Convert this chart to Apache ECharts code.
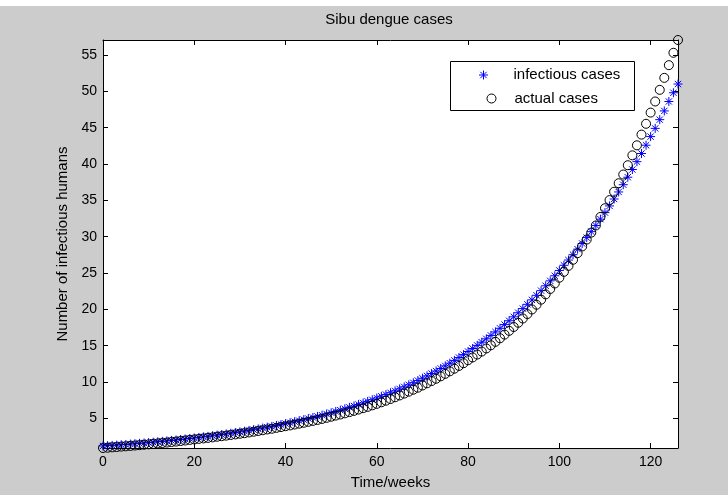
<!DOCTYPE html>
<html>
<head>
<meta charset="utf-8">
<title>Sibu dengue cases</title>
<script src="https://cdn.jsdelivr.net/npm/echarts@6/dist/echarts.min.js"></script>
<style>
html, body { margin: 0; padding: 0; background: #cccccc; }
#main { width: 728px; height: 495px; }
</style>
</head>
<body>
<div id="main"></div>
<script>
// weeks since start
var weeks = [
  0, 1, 2, 3, 4, 5, 6, 7, 8, 9,
  10, 11, 12, 13, 14, 15, 16, 17, 18, 19,
  20, 21, 22, 23, 24, 25, 26, 27, 28, 29,
  30, 31, 32, 33, 34, 35, 36, 37, 38, 39,
  40, 41, 42, 43, 44, 45, 46, 47, 48, 49,
  50, 51, 52, 53, 54, 55, 56, 57, 58, 59,
  60, 61, 62, 63, 64, 65, 66, 67, 68, 69,
  70, 71, 72, 73, 74, 75, 76, 77, 78, 79,
  80, 81, 82, 83, 84, 85, 86, 87, 88, 89,
  90, 91, 92, 93, 94, 95, 96, 97, 98, 99,
  100, 101, 102, 103, 104, 105, 106, 107, 108, 109,
  110, 111, 112, 113, 114, 115, 116, 117, 118, 119,
  120, 121, 122, 123, 124, 125, 126
];

// model output (blue *)
var infectious = [
  1.20, 1.24, 1.28, 1.32, 1.37, 1.41, 1.46, 1.51, 1.56, 1.61,
  1.66, 1.72, 1.78, 1.83, 1.89, 1.96, 2.02, 2.09, 2.16, 2.23,
  2.30, 2.37, 2.45, 2.52, 2.60, 2.69, 2.77, 2.86, 2.95, 3.04,
  3.14, 3.23, 3.34, 3.44, 3.55, 3.66, 3.78, 3.89, 4.02, 4.14,
  4.27, 4.40, 4.54, 4.68, 4.82, 4.97, 5.12, 5.27, 5.43, 5.60,
  5.77, 5.95, 6.13, 6.31, 6.51, 6.70, 6.91, 7.12, 7.33, 7.56,
  7.79, 8.03, 8.27, 8.52, 8.78, 9.05, 9.33, 9.61, 9.90, 10.20,
  10.52, 10.84, 11.17, 11.51, 11.86, 12.22, 12.59, 12.97, 13.37, 13.77,
  14.20, 14.61, 15.04, 15.48, 15.94, 16.41, 16.89, 17.39, 17.90, 18.43,
  18.97, 19.53, 20.10, 20.69, 21.30, 21.93, 22.57, 23.24, 23.92, 24.62,
  25.35, 26.06, 26.78, 27.52, 28.28, 29.06, 29.87, 30.69, 31.54, 32.41,
  33.31, 34.23, 35.18, 36.15, 37.15, 38.18, 39.24, 40.32, 41.44, 42.58,
  43.77, 44.90, 46.10, 47.30, 48.60, 49.80, 51.00
];

// observed data (black o)
var actual = [
  0.92, 0.96, 1.01, 1.05, 1.11, 1.15, 1.20, 1.26, 1.31, 1.37,
  1.42, 1.48, 1.55, 1.60, 1.67, 1.74, 1.80, 1.88, 1.95, 2.03,
  2.10, 2.17, 2.24, 2.31, 2.38, 2.47, 2.54, 2.62, 2.71, 2.79,
  2.88, 2.96, 3.06, 3.16, 3.26, 3.36, 3.47, 3.57, 3.69, 3.80,
  3.92, 4.03, 4.15, 4.27, 4.39, 4.52, 4.65, 4.78, 4.92, 5.07,
  5.22, 5.38, 5.53, 5.69, 5.86, 6.03, 6.21, 6.40, 6.58, 6.79,
  6.99, 7.21, 7.43, 7.66, 7.90, 8.15, 8.41, 8.67, 8.94, 9.22,
  9.52, 9.82, 10.13, 10.45, 10.78, 11.12, 11.47, 11.83, 12.21, 12.59,
  13.00, 13.38, 13.78, 14.19, 14.62, 15.06, 15.53, 16.02, 16.52, 17.04,
  17.57, 18.15, 18.74, 19.35, 19.98, 20.63, 21.33, 22.06, 22.80, 23.56,
  24.35, 25.16, 25.98, 26.82, 27.73, 28.66, 29.60, 30.56, 31.54, 32.71,
  33.91, 35.03, 36.18, 37.35, 38.55, 39.83, 41.19, 42.57, 44.04, 45.53,
  47.07, 48.60, 50.20, 51.85, 53.60, 55.30, 57.06
];

var xTicks = [0, 20, 40, 60, 80, 100, 120];
var yTicks = [5, 10, 15, 20, 25, 30, 35, 40, 45, 50, 55];

var font = 'Liberation Sans, Arial, Helvetica, sans-serif';
var starPath = 'path://M5 0L5 10M0 5L10 5M1.5 1.5L8.5 8.5M1.5 8.5L8.5 1.5';

function pairs(ys) {
  return weeks.map(function (w, i) { return [w, ys[i]]; });
}

function xAx(pos, labels) {
  return {
    type: 'value', position: pos, min: 0, max: 126,
    axisLine: { show: true, onZero: false, lineStyle: { color: '#000', width: 1 } },
    axisTick: { show: true, inside: true, length: 5, customValues: xTicks, lineStyle: { color: '#000' } },
    axisLabel: { show: labels, customValues: xTicks, margin: 7, fontSize: 14, color: '#000', fontFamily: font },
    splitLine: { show: false }
  };
}
function yAx(pos, labels) {
  return {
    type: 'value', position: pos, min: 0.92, max: 57.06,
    axisLine: { show: true, onZero: false, lineStyle: { color: '#000', width: 1 } },
    axisTick: { show: true, inside: true, length: 5, customValues: yTicks, lineStyle: { color: '#000' } },
    axisLabel: { show: labels, customValues: yTicks, margin: 6, fontSize: 14, color: '#000', fontFamily: font },
    splitLine: { show: false }
  };
}

var chart = echarts.init(document.getElementById('main'));

var xBottom = xAx('bottom', true);
xBottom.name = 'Time/weeks';
xBottom.nameLocation = 'middle';
xBottom.nameGap = 27;
xBottom.nameTextStyle = { fontSize: 15, color: '#000', fontFamily: font };

var yLeft = yAx('left', true);
yLeft.name = 'Number of infectious humans';
yLeft.nameLocation = 'middle';
yLeft.nameGap = 33;
yLeft.nameTextStyle = { fontSize: 15, color: '#000', fontFamily: font };

var legendText = { fontSize: 15, color: '#000', fontFamily: font };

chart.setOption({
  animation: false,
  backgroundColor: '#cccccc',
  grid: {
    left: 103, right: 50, top: 40, bottom: 46,
    show: true, backgroundColor: '#ffffff', borderWidth: 0
  },
  graphic: [
    {
      // thin white strip along the top edge of the figure window
      type: 'rect', z: 1,
      shape: { x: 0, y: 0, width: 728, height: 6 },
      style: { fill: '#ffffff' }
    },
    {
      type: 'text', x: 389, y: 20, z: 10,
      style: { text: 'Sibu dengue cases', fill: '#000', font: '15px ' + font, textAlign: 'center', textVerticalAlign: 'middle' }
    },
    {
      type: 'rect', z: 3,
      shape: { x: 450.5, y: 61.5, width: 184, height: 49 },
      style: { fill: '#ffffff', stroke: '#000', lineWidth: 1 }
    }
  ],
  legend: [
    {
      data: ['infectious cases'], left: 478.5, top: 67.5, padding: 0, z: 5,
      itemWidth: 50, itemHeight: 9, itemGap: 0, selectedMode: false,
      itemStyle: { borderWidth: 1 }, textStyle: legendText
    },
    {
      data: ['actual cases'], left: 486.5, top: 91, padding: 0, z: 5,
      itemWidth: 36, itemHeight: 9, itemGap: 0, selectedMode: false,
      itemStyle: { borderWidth: 1 }, textStyle: legendText
    }
  ],
  xAxis: [xBottom, xAx('top', false)],
  yAxis: [yLeft, yAx('right', false)],
  series: [
    {
      name: 'infectious cases', type: 'scatter',
      xAxisIndex: 0, yAxisIndex: 0,
      symbol: starPath, symbolSize: 9,
      itemStyle: { color: '#0000ff', borderColor: '#0000ff', borderWidth: 1, opacity: 1 },
      data: pairs(infectious)
    },
    {
      name: 'actual cases', type: 'scatter',
      xAxisIndex: 0, yAxisIndex: 0,
      symbol: 'circle', symbolSize: 9,
      itemStyle: { color: 'rgba(0,0,0,0)', borderColor: '#000000', borderWidth: 1, opacity: 1 },
      data: pairs(actual)
    }
  ]
});

window.addEventListener('resize', chart.resize);
</script>
</body>
</html>
